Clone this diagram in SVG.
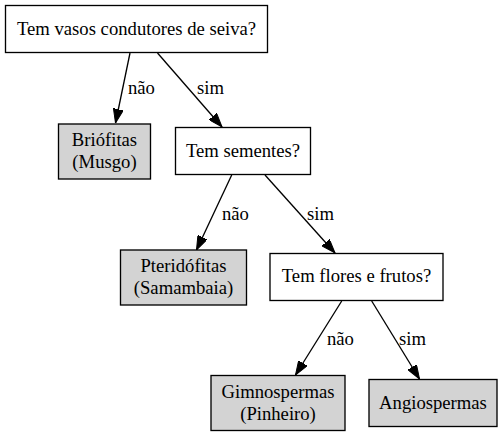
<svg xmlns="http://www.w3.org/2000/svg" width="504" height="436" viewBox="0 0 504 436">
<style>
  .q { fill: #ffffff; stroke: #000000; stroke-width: 1.33; }
  .leaf { fill: #d3d3d3; stroke: #000000; stroke-width: 1.33; }
  text { font-family: "Liberation Serif", "Times New Roman", serif; font-size: 18.67px; fill: #000000; }
  .c { text-anchor: middle; }
  .edge { stroke: #000000; stroke-width: 1.33; fill: none; marker-end: url(#arrow); }
</style>
<defs>
  <marker id="arrow" viewBox="0 0 14 10" refX="14" refY="5" markerWidth="14" markerHeight="10" markerUnits="userSpaceOnUse" orient="auto">
    <path d="M0,0 L14,5 L0,10 z" fill="#000000" stroke="#000000" stroke-width="1"/>
  </marker>
</defs>
<rect width="504" height="436" fill="#ffffff"/>
<g id="connectors">
  <line class="edge" x1="130" y1="53" x2="115.5" y2="123"/>
  <text x="128" y="94">não</text>
  <line class="edge" x1="157.5" y1="53" x2="222" y2="127"/>
  <text x="197" y="94">sim</text>
  <line class="edge" x1="231.7" y1="175" x2="196.5" y2="250"/>
  <text x="222" y="220">não</text>
  <line class="edge" x1="265" y1="175" x2="335" y2="253"/>
  <text x="307" y="220">sim</text>
  <line class="edge" x1="341.7" y1="301" x2="295.5" y2="375"/>
  <text x="327" y="345">não</text>
  <line class="edge" x1="371.7" y1="301" x2="419.5" y2="379"/>
  <text x="399" y="345">sim</text>
</g>
<g id="n_vasos">
  <rect class="q" x="5.5" y="5.5" width="262" height="47"/>
  <text class="c" x="136.5" y="35">Tem vasos condutores de seiva?</text>
</g>
<g id="n_briofitas">
  <rect class="leaf" x="58.5" y="124" width="92" height="55"/>
  <text class="c" x="104.5" y="145.5">Briófitas</text>
  <text class="c" x="104.5" y="167.5">(Musgo)</text>
</g>
<g id="n_sementes">
  <rect class="q" x="175.5" y="127.5" width="135" height="47"/>
  <text class="c" x="243" y="157">Tem sementes?</text>
</g>
<g id="n_pteridofitas">
  <rect class="leaf" x="120.5" y="250" width="126" height="55"/>
  <text class="c" x="183.5" y="271.5">Pteridófitas</text>
  <text class="c" x="183.5" y="293.5">(Samambaia)</text>
</g>
<g id="n_flores">
  <rect class="q" x="270" y="253.5" width="173" height="47"/>
  <text class="c" x="356.5" y="282">Tem flores e frutos?</text>
</g>
<g id="n_gimnospermas">
  <rect class="leaf" x="211" y="375.5" width="134" height="55"/>
  <text class="c" x="278" y="397.5">Gimnospermas</text>
  <text class="c" x="278" y="419.5">(Pinheiro)</text>
</g>
<g id="n_angiospermas">
  <rect class="leaf" x="369" y="379.5" width="128" height="47"/>
  <text class="c" x="433" y="408.5">Angiospermas</text>
</g>
</svg>
